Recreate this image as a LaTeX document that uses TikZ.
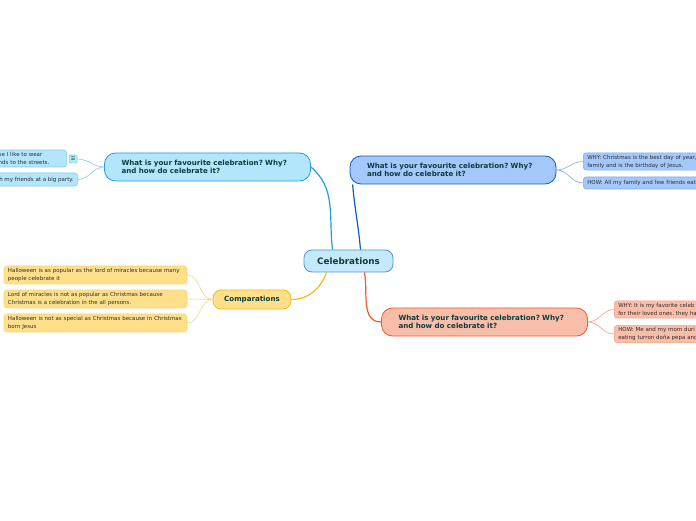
\documentclass[tikz,border=0pt]{standalone}
\usepackage{fontspec}
\setmainfont{DejaVu Sans}
\usepackage{xcolor}
\usepackage{tikz}
\usetikzlibrary{positioning}
\frenchspacing
\definecolor{centrefill}{RGB}{197, 233, 250}
\definecolor{centreline}{RGB}{74, 154, 212}
\definecolor{cyanfill}{RGB}{179, 229, 252}
\definecolor{cyanline}{RGB}{30, 160, 220}
\definecolor{cyanlight}{RGB}{130, 206, 242}
\definecolor{bluefill}{RGB}{165, 200, 250}
\definecolor{blueline}{RGB}{16, 90, 200}
\definecolor{bluelight}{RGB}{128, 172, 238}
\definecolor{salmonfill}{RGB}{249, 190, 170}
\definecolor{salmonline}{RGB}{240, 90, 40}
\definecolor{salmonlight}{RGB}{246, 162, 130}
\definecolor{yellowfill}{RGB}{255, 223, 138}
\definecolor{yellowline}{RGB}{248, 184, 24}
\definecolor{yellowlight}{RGB}{252, 214, 120}
\definecolor{topictext}{RGB}{12, 60, 60}
\definecolor{leaftext}{RGB}{45, 45, 45}

\begin{document}
\begin{tikzpicture}[
			x=1pt, y=1pt,
			centre/.style={rectangle, draw=centreline, fill=centrefill, line width=0.8pt, rounded corners=8pt, minimum width=89pt, minimum height=22pt, font=\fontsize{8.8}{10}\selectfont\bfseries, text=topictext},
			topic/.style={rectangle, draw, line width=0.8pt, rounded corners=11pt, text width=172pt, minimum height=28pt, inner xsep=17pt, align=left, font=\fontsize{7.1}{8}\selectfont\bfseries, text=topictext},
			subtopic/.style={rectangle, draw, line width=0.8pt, rounded corners=8pt, minimum width=78pt, minimum height=19pt, font=\fontsize{7.1}{8}\selectfont\bfseries, text=topictext},
			leaf/.style={rectangle, draw, line width=0.6pt, rounded corners=3pt, inner xsep=4pt, inner ysep=2pt, align=left, font=\fontsize{5.5}{8}\selectfont, text=leaftext},
			branch/.style={line width=1.2pt},
			twig/.style={line width=0.6pt}
		]
		\useasboundingbox (0,0) rectangle (696,520);
		\fill[white] (0,0) rectangle (696,520);
		\clip (0,0) rectangle (696,520);
		
		% Centre
		\node[centre] (celebrations) at (348.5,259) {Celebrations};
		
		% Top left topic
		\node[topic, draw=cyanline, fill=cyanfill] (favleft) at (207.5,353) {What is your favourite celebration? Why?\\and how do celebrate it?};
		\node[leaf, draw=cyanlight, fill=cyanfill, text width=64pt, anchor=east, minimum height=17pt] (wearleaf) at (67,361.5) {se I like to wear\\nds to the streets.};
		\node[leaf, draw=cyanlight, fill=cyanfill, anchor=east, minimum height=13pt] (partyleaf) at (78,340.5) {h my friends at a big party.};
		\node[rectangle, draw=cyanlight, fill=cyanfill, line width=0.5pt, rounded corners=1pt, minimum size=8pt, inner sep=0pt, font=\fontsize{5}{5}\selectfont, text=topictext] (noteicon) at (73,361) {☰};
		
		% Top right topic
		\node[topic, draw=blueline, fill=bluefill] (favright) at (453,350) {What is your favourite celebration? Why?\\and how do celebrate it?};
		\node[leaf, draw=bluelight, fill=bluefill, text width=200pt, anchor=west, minimum height=17pt] (whyxmas) at (583,358.5) {WHY: Christmas is the best day of year,\\family and is the birthday of Jesus.};
		\node[leaf, draw=bluelight, fill=bluefill, text width=200pt, anchor=west, minimum height=12pt] (howxmas) at (583,337) {HOW: All my family and few friends eat};
		
		% Bottom right topic
		\node[topic, draw=salmonline, fill=salmonfill] (favdown) at (484.5,198) {What is your favourite celebration? Why?\\and how do celebrate it?};
		\node[leaf, draw=salmonlight, fill=salmonfill, text width=200pt, anchor=west, minimum height=17pt] (whyceleb) at (614,210.5) {WHY: It is my favorite celeb\\for their loved ones. they ha};
		\node[leaf, draw=salmonlight, fill=salmonfill, text width=200pt, anchor=west, minimum height=17pt] (howceleb) at (614,186) {HOW: Me and my mom duri\\eating turron doña pepa and};
		
		% Comparations
		\node[subtopic, draw=yellowline, fill=yellowfill] (comparations) at (252,220.5) {Comparations};
		\node[leaf, draw=yellowlight, fill=yellowfill, text width=175pt, minimum height=18pt] (compone) at (95.5,245) {Halloween is as popular as the lord of miracles because many\\people celebrate it};
		\node[leaf, draw=yellowlight, fill=yellowfill, text width=175pt, minimum height=18pt] (comptwo) at (95.5,221) {Lord of miracles is not as popular as Christmas because\\Christmas is a celebration in the all persons.};
		\node[leaf, draw=yellowlight, fill=yellowfill, text width=175pt, minimum height=18pt] (compthree) at (95.5,197) {Halloween is not as special as Christmas because in Christmas\\born Jesus};
		
		% Branches
		\draw[branch, cyanline] ([xshift=-16pt]celebrations.north) to[out=97, in=-40] (favleft.east);
		\draw[branch, blueline] ([xshift=12pt]celebrations.north) to[out=95, in=-85] ([xshift=3pt]favright.south west);
		\draw[branch, salmonline] ([xshift=16pt]celebrations.south) to[out=-80, in=180] (favdown.west);
		\draw[branch, yellowline] ([xshift=-22pt]celebrations.south) to[out=-110, in=0] (comparations.east);
		
		% Twigs
		\draw[twig, cyanlight] (favleft.west) to[out=180, in=0] (noteicon.east);
		\draw[twig, cyanlight] (favleft.west) to[out=180, in=0] (partyleaf.east);
		\draw[twig, bluelight] (favright.east) to[out=0, in=180] (whyxmas.west);
		\draw[twig, bluelight] (favright.east) to[out=0, in=180] (howxmas.west);
		\draw[twig, salmonlight] (favdown.east) to[out=0, in=180] (whyceleb.west);
		\draw[twig, salmonlight] (favdown.east) to[out=0, in=180] (howceleb.west);
		\draw[twig, yellowlight] (comparations.west) to[out=180, in=0] (compone.east);
		\draw[twig, yellowlight] (comparations.west) to[out=180, in=0] (comptwo.east);
		\draw[twig, yellowlight] (comparations.west) to[out=180, in=0] (compthree.east);
\end{tikzpicture}
\end{document}
